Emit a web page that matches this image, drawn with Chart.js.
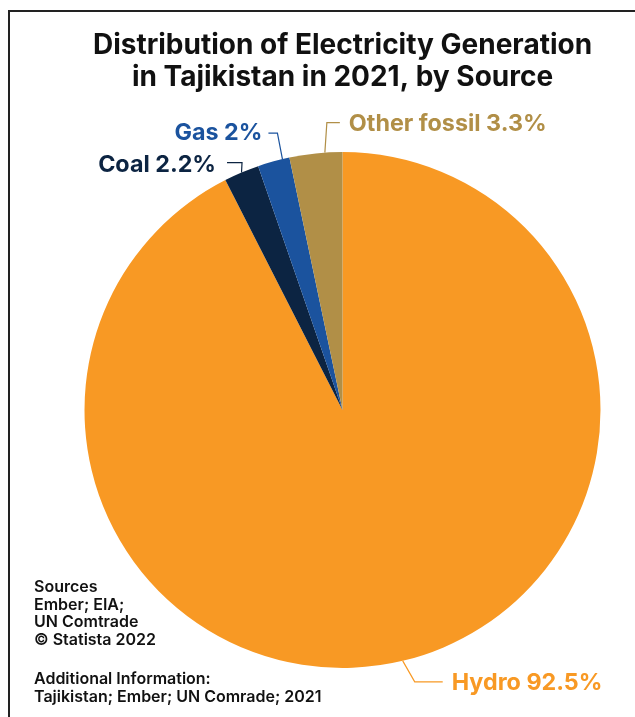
<!DOCTYPE html>
<html>
<head>
<meta charset="utf-8">
<script src="https://cdn.jsdelivr.net/npm/chart.js@4"></script>
<style>
  body { margin: 0; background: #fff; }
  #wrap { position: relative; width: 635px; height: 717px; overflow: hidden; }
  #frame { position: absolute; left: 8px; top: 10px; right: -4px; bottom: -4px;
           border-top: 2px solid #222; border-left: 2px solid #222; }
  canvas { position: absolute; left: 0; top: 0; }
  .note { position: absolute; left: 34px; font: 600 16px Inter, sans-serif; color: #111; line-height: 17.6px; }
</style>
</head>
<body>
<div id="wrap">
  <div id="frame"></div>
  <canvas id="pieChart" width="635" height="717"></canvas>
  <div class="note" style="top:578px">Sources<br>Ember; EIA;<br>UN Comtrade<br>© Statista 2022</div>
  <div class="note" style="top:670px">Additional Information:<br>Tajikistan; Ember; UN Comrade; 2021</div>
</div>
<script>
var categories = ["Hydro", "Coal", "Gas", "Other fossil"];
var shares = [92.5, 2.2, 2, 3.3];
var sliceColors = ["#F89924", "#0C2442", "#1B539E", "#B18F47"];

// leader line layout for each slice label
var leaders = [
  { at: 0.5, dx: 12, dy: 21, len: 28, dir: 1, gap: 9, ty: 1 },
  { at: 0.5, dx: 0.5, dy: -10, len: 15, dir: -1, gap: 11, ty: 2 },
  { at: 0.78, dx: -5, dy: -26, len: 9, dir: -1, gap: 6, ty: 0 },
  { at: 0.67, dx: 2, dy: -30, len: 13, dir: 1, gap: 9, ty: 1 },
];

var sliceLabels = {
  id: "sliceLabels",
  afterDatasetsDraw: function (chart) {
    var ctx = chart.ctx;
    var meta = chart.getDatasetMeta(0);
    meta.data.forEach(function (arc, i) {
      var p = arc.getProps(["x", "y", "startAngle", "endAngle", "outerRadius"], true);
      var L = leaders[i];
      var a = p.startAngle + (p.endAngle - p.startAngle) * L.at;
      var ax = p.x + Math.cos(a) * p.outerRadius;
      var ay = p.y + Math.sin(a) * p.outerRadius;
      var ex = ax + L.dx, ey = ay + L.dy;
      var hx = ex + L.len * L.dir;
      ctx.save();
      ctx.strokeStyle = sliceColors[i];
      ctx.lineWidth = 1.2;
      ctx.beginPath();
      ctx.moveTo(ax, ay);
      ctx.lineTo(ex, ey);
      ctx.lineTo(hx, ey);
      ctx.stroke();
      ctx.fillStyle = sliceColors[i];
      ctx.font = "700 23.3px Inter, sans-serif";
      ctx.textAlign = L.dir > 0 ? "left" : "right";
      ctx.textBaseline = "middle";
      ctx.fillText(categories[i] + " " + shares[i] + "%", hx + L.gap * L.dir, ey + L.ty);
      ctx.restore();
    });
  },
};

var ctx = document.getElementById("pieChart").getContext("2d");
var pieChart = new Chart(ctx, {
  type: "pie",
  data: {
    labels: categories,
    datasets: [
      {
        data: shares,
        backgroundColor: sliceColors,
        borderWidth: 0,
      },
    ],
  },
  options: {
    responsive: false,
    animation: false,
    layout: { padding: { left: 84.5, right: 34.5, top: 14, bottom: 49 } },
    plugins: {
      legend: { display: false },
      tooltip: { enabled: false },
      title: {
        display: true,
        text: ["Distribution of Electricity Generation", "in Tajikistan in 2021, by Source"],
        color: "#111",
        font: { family: "Inter", size: 28, weight: "700", lineHeight: 1.15 },
        padding: { top: 15, bottom: 58.6 },
      },
    },
  },
  plugins: [sliceLabels],
});
</script>
</body>
</html>
